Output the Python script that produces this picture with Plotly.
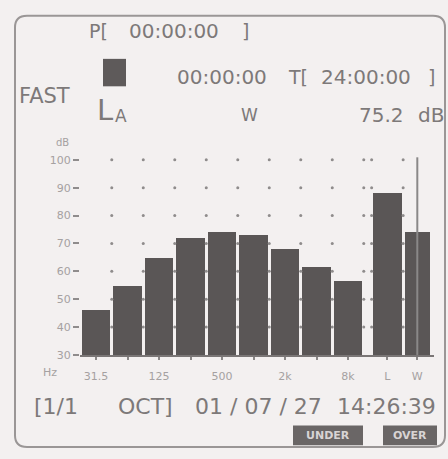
import plotly.graph_objects as go

# ---- data ----
bands = ["31.5", "63", "125", "250", "500", "1k", "2k", "4k", "8k", "L", "W"]
levels_db = [46.2, 54.6, 64.8, 71.9, 74.3, 72.9, 68.0, 61.7, 56.7, 88.0, 74.0]
x_tick_labels = ["31.5", "", "125", "", "500", "", "2k", "", "8k", "L", "W"]
y_ticks = [30, 40, 50, 60, 70, 80, 90, 100]
grid_levels = [40, 50, 60, 70, 80, 90, 100]

W, H = 448, 459
BG = "#f3f0f0"
TXT = "#7d7979"
BAR = "#5a5656"

def px(x):
    return x / W

def py(y):
    return 1 - y / H

# positions: 9 octave bands, then a gap before L and W
xpos = list(range(9)) + [9.25, 10.2]
widths = [0.9] * 10 + [0.8]

fig = go.Figure()
fig.add_trace(go.Bar(x=xpos, y=levels_db, width=widths, marker=dict(color=BAR, line=dict(width=0)),
                     hoverinfo="skip"))

# dotted grid at bar boundaries
gx = [i + 0.5 for i in range(9)] + [xpos[9] - 0.5, xpos[9] + 0.5]
dot_x, dot_y = [], []
for lv in grid_levels:
    for g in gx:
        dot_x.append(g)
        dot_y.append(lv)
fig.add_trace(go.Scatter(x=dot_x, y=dot_y, mode="markers",
                         marker=dict(size=3, color="#8f8c8c"), hoverinfo="skip"))

y_top = 101.4
# cursor line on W
fig.add_shape(type="line", xref="x", yref="y", x0=xpos[10], x1=xpos[10], y0=30, y1=y_top - 0.5,
              line=dict(color="#8a8888", width=2))

# rounded frame (paper coords)
l, r, t, b, rad = 15, 445, 14, 454, 12
def P(x, y):
    return f"{px(x):.5f},{py(y):.5f}"
path = (f"M {P(l + rad, t)} L {P(r - rad, t)} Q {P(r, t)} {P(r, t + rad)} "
        f"L {P(r, b - rad)} Q {P(r, b)} {P(r - rad, b)} L {P(l + rad, b)} Q {P(l, b)} {P(l, b - rad)} "
        f"L {P(l, t + rad)} Q {P(l, t)} {P(l + rad, t)} Z")
fig.add_shape(type="path", xref="paper", yref="paper", path=path,
              line=dict(color="#9a9696", width=2), fillcolor="rgba(0,0,0,0)", layer="below")

# black square
fig.add_shape(type="rect", xref="paper", yref="paper", x0=px(103), x1=px(126), y0=py(86), y1=py(58),
              line=dict(width=0), fillcolor="#5e5a5a")

# UNDER / OVER badges
fig.add_shape(type="rect", xref="paper", yref="paper", x0=px(293), x1=px(363), y0=py(452), y1=py(432),
              line=dict(width=0), fillcolor="#6a6666")
fig.add_shape(type="rect", xref="paper", yref="paper", x0=px(383), x1=px(437), y0=py(452), y1=py(432),
              line=dict(width=0), fillcolor="#6a6666")

F = "DejaVu Sans, Liberation Sans, sans-serif"

def txt(x, y, s, size, color=TXT, xanchor="left", yanchor="middle"):
    fig.add_annotation(x=px(x), y=py(y), xref="paper", yref="paper", text=s, showarrow=False,
                       xanchor=xanchor, yanchor=yanchor, font=dict(family=F, size=size, color=color))

# top rows
txt(87, 30, "P[", 19)
txt(174, 30, "00:00:00", 20, xanchor="center")
txt(251, 30, "]", 19, xanchor="right")
txt(222, 77, "00:00:00", 20, xanchor="center")
txt(286, 77, "T[", 19)
txt(366, 77, "24:00:00", 20, xanchor="center")
txt(437, 77, "]", 19, xanchor="right")
txt(17, 96, "FAST", 21)
txt(95, 110, "L", 29)
txt(113, 116, "A", 17)
txt(249, 115, "W", 17, xanchor="center")
txt(406, 115, "75.2", 20, xanchor="right")
txt(446, 115, "dB", 20, xanchor="right")
txt(62, 143, "dB", 10, color="#a5a1a1", xanchor="center")
txt(50, 378, "Hz", 11, color="#a5a1a1", xanchor="center")

# bottom row
txt(32, 413, "[1/1", 22)
txt(145, 413, "OCT]", 22, xanchor="center")
txt(258, 413, "01 / 07 / 27", 22, xanchor="center")
txt(386, 413, "14:26:39", 22, xanchor="center")
txt(328, 442, "<b>UNDER</b>", 11, color="#d8d4d4", xanchor="center")
txt(410, 442, "<b>OVER</b>", 11, color="#d8d4d4", xanchor="center")

x0 = (80 - 96) / 31.5
x1 = (434 - 96) / 31.5

fig.update_layout(
    width=W, height=H, margin=dict(l=0, r=0, t=0, b=0),
    paper_bgcolor=BG, plot_bgcolor=BG, showlegend=False, bargap=0,
    xaxis=dict(domain=[px(80), px(434)], range=[x0, x1], tickvals=xpos, ticktext=x_tick_labels,
               showgrid=False, zeroline=False, showline=True, linecolor="#7a7676", linewidth=2,
               ticks="outside", ticklen=3, tickcolor="#8a8787", tickwidth=2, ticklabelstandoff=7,
               tickfont=dict(family=F, size=11, color="#a5a1a1")),
    yaxis=dict(domain=[py(360), py(157)], range=[30, y_top], tickvals=y_ticks,
               showgrid=False, zeroline=False, showline=False,
               ticks="outside", ticklen=6, tickcolor="#8f8c8c", tickwidth=2,
               tickfont=dict(family=F, size=11, color="#a5a1a1")),
)

fig.write_html("out.html", config={"displayModeBar": False},
               post_script="document.body.style.margin='0';document.body.style.overflow='hidden';")
